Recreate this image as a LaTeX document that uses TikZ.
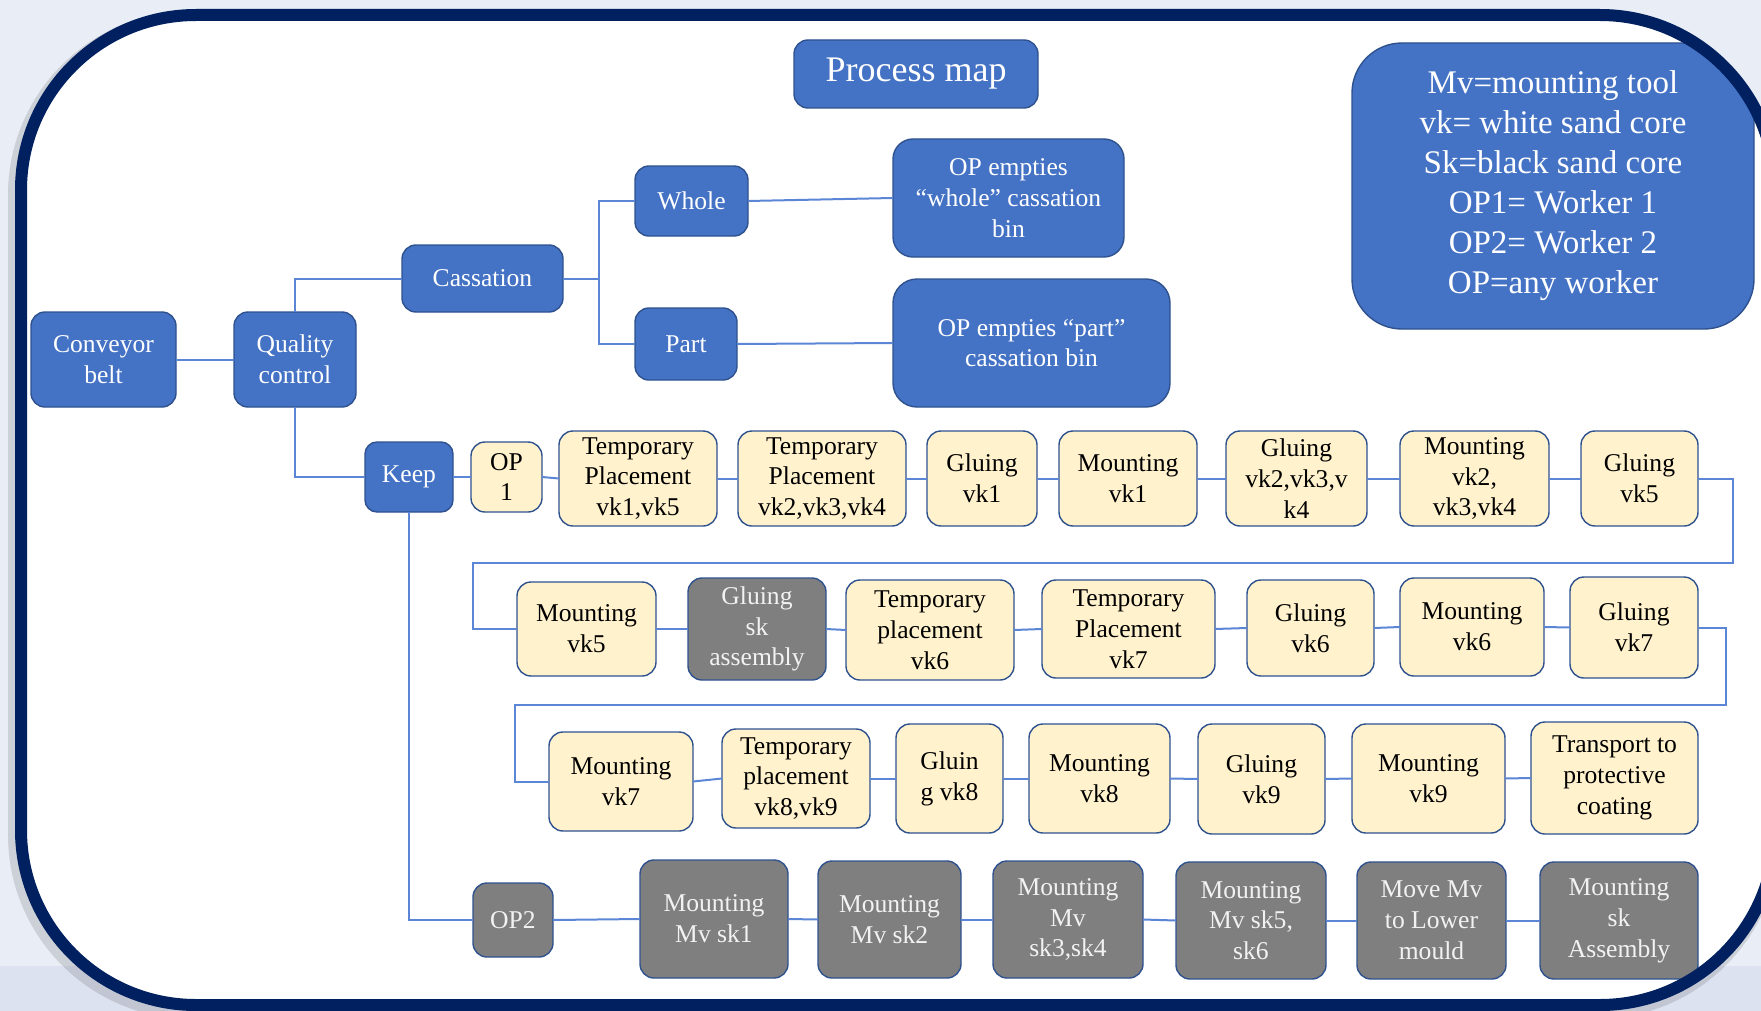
\documentclass[tikz,border=0pt]{standalone}
\usepackage{fontspec}
\setmainfont{Liberation Serif}
\definecolor{blu}{HTML}{4472C4}
\definecolor{bord}{HTML}{2F528F}
\definecolor{cream}{HTML}{FFF2CC}
\definecolor{grayf}{HTML}{7F7F7F}
\definecolor{lnk}{HTML}{5B86D6}
\definecolor{navy}{HTML}{002060}
\definecolor{bgc}{HTML}{E9EDF5}
\definecolor{bgd}{HTML}{DDE2F0}
\newcommand\bfnt{\fontsize{12.8}{15.4}\selectfont}
\newcommand\mkbox[7]{\node[#6, minimum width={(#4-#2)*0.5pt}, minimum height={(#5-#3)*0.5pt}] (#1) at ({(#2+#4)/2},{(#3+#5)/2}) {#7};}
\tikzset{
  basebox/.style={draw=bord, line width=0.7pt, align=center, inner sep=0pt, outer sep=0pt, font=\bfnt, rounded corners=7pt},
  bluebox/.style={basebox, fill=blu, text=white},
  creambox/.style={basebox, fill=cream, text=black},
  graybox/.style={basebox, fill=grayf, text=white!95!black},
  link/.style={draw=lnk, line width=1pt},
}
\begin{document}
\begin{tikzpicture}[x=0.5pt,y=-0.5pt]
\useasboundingbox (0,0) rectangle (1761,1011);
% background
\fill[bgc] (0,0) rectangle (1761,1011);
\fill[bgd] (0,966) rectangle (1761,1011);
% frame shadow and fill
\draw[line width=9pt, black, opacity=0.12, rounded corners=87.5pt] (17,20) rectangle (1771,1010);
\fill[white, rounded corners=87.5pt] (21,15) rectangle (1775,1005);
\begin{scope}
\clip[rounded corners=87.5pt] (21,15) rectangle (1775,1005);
% title and legend
\mkbox{pm}{794}{40}{1038}{108}{bluebox, font=\fontsize{18}{21}\selectfont}{Process map}
\mkbox{leg}{1352}{43}{1754}{329}{bluebox, rounded corners=25pt, font=\fontsize{16.5}{20}\selectfont}{Mv=mounting tool\\vk= white sand core\\Sk=black sand core\\OP1= Worker 1\\OP2= Worker 2\\OP=any worker}
% upper tree
\mkbox{conv}{31}{312}{176}{407}{bluebox}{Conveyor\\belt}
\mkbox{qc}{234}{312}{356}{407}{bluebox}{Quality\\control}
\mkbox{cas}{402}{245}{563}{312}{bluebox}{Cassation}
\mkbox{whole}{635}{166}{748}{236}{bluebox}{Whole}
\mkbox{part}{635}{308}{737}{380}{bluebox}{Part}
\mkbox{opw}{893}{139}{1124}{257}{bluebox, rounded corners=10pt}{OP empties\\“whole” cassation\\bin}
\mkbox{opp}{893}{279}{1170}{407}{bluebox, rounded corners=12pt}{OP empties “part”\\cassation bin}
\mkbox{keep}{365}{442}{453}{512}{bluebox, rounded corners=6pt}{Keep}
% row 1
\mkbox{op1}{471}{442}{542}{512}{creambox}{OP\\1}
\mkbox{tp1}{559}{431}{717}{526}{creambox}{Temporary\\Placement\\vk1,vk5}
\mkbox{tp2}{738}{431}{906}{526}{creambox}{Temporary\\Placement\\vk2,vk3,vk4}
\mkbox{gv1}{927}{431}{1037}{526}{creambox}{Gluing\\vk1}
\mkbox{mv1}{1059}{431}{1197}{526}{creambox}{Mounting\\vk1}
\mkbox{g234}{1226}{431}{1367}{526}{creambox}{Gluing\\vk2,vk3,v\\k4}
\mkbox{m234}{1400}{431}{1549}{526}{creambox}{Mounting\\vk2,\\vk3,vk4}
\mkbox{gv5}{1581}{431}{1698}{526}{creambox}{Gluing\\vk5}
% row 2
\mkbox{mv5}{517}{582}{656}{676}{creambox}{Mounting\\vk5}
\mkbox{gsk}{688}{578}{826}{680}{graybox}{Gluing\\sk\\assembly}
\mkbox{tp6}{846}{580}{1014}{680}{creambox}{Temporary\\placement\\vk6}
\mkbox{tp7}{1042}{580}{1215}{678}{creambox}{Temporary\\Placement\\vk7}
\mkbox{gv6}{1247}{580}{1374}{676}{creambox}{Gluing\\vk6}
\mkbox{mv6}{1400}{578}{1544}{676}{creambox}{Mounting\\vk6}
\mkbox{gv7}{1570}{577}{1698}{678}{creambox}{Gluing\\vk7}
% row 3
\mkbox{mv7}{549}{732}{693}{831}{creambox}{Mounting\\vk7}
\mkbox{tp89}{722}{729}{870}{828}{creambox}{Temporary\\placement\\vk8,vk9}
\mkbox{gv8}{896}{724}{1003}{833}{creambox}{Gluin\\g vk8}
\mkbox{mv8}{1029}{724}{1170}{833}{creambox}{Mounting\\vk8}
\mkbox{gv9}{1198}{724}{1325}{834}{creambox}{Gluing\\vk9}
\mkbox{mv9}{1352}{724}{1505}{833}{creambox}{Mounting\\vk9}
\mkbox{tpc}{1531}{722}{1698}{834}{creambox}{Transport to\\protective\\coating}
% row 4
\mkbox{op2}{473}{883}{553}{957}{graybox}{OP2}
\mkbox{ms1}{640}{860}{788}{978}{graybox}{Mounting\\Mv sk1}
\mkbox{ms2}{818}{861}{961}{978}{graybox}{Mounting\\Mv sk2}
\mkbox{ms34}{993}{861}{1143}{978}{graybox}{Mounting\\Mv\\sk3,sk4}
\mkbox{ms56}{1176}{862}{1326}{979}{graybox}{Mounting\\Mv sk5,\\sk6}
\mkbox{mvl}{1357}{862}{1506}{979}{graybox}{Move Mv\\to Lower\\mould}
\mkbox{msa}{1540}{862}{1698}{979}{graybox}{Mounting\\sk\\Assembly}
% helper coordinates
\coordinate (cs) at (599,278.5);
\coordinate (w1a) at (1733,563);
\coordinate (w1b) at (473,563);
\coordinate (w2a) at (1726,705);
\coordinate (w2b) at (515,705);
% connectors
\draw[link] (conv.east) -- (qc.west);
\draw[link] (qc.north) |- (cas.west);
\draw[link] (qc.south) |- (keep.west);
\draw[link] (cas.east) -- (cs);
\draw[link] (cs) |- (whole.west);
\draw[link] (cs) |- (part.west);
\draw[link] (whole.east) -- (opw.west);
\draw[link] (part.east) -- (opp.west);
\draw[link] (keep.east) -- (op1.west);
\draw[link] (op1.east) -- (tp1.west);
\draw[link] (tp1.east) -- (tp2.west);
\draw[link] (tp2.east) -- (gv1.west);
\draw[link] (gv1.east) -- (mv1.west);
\draw[link] (mv1.east) -- (g234.west);
\draw[link] (g234.east) -- (m234.west);
\draw[link] (m234.east) -- (gv5.west);
\draw[link] (gv5.east) -| (w1a) -- (w1b) |- (mv5.west);
\draw[link] (mv5.east) -- (gsk.west);
\draw[link] (gsk.east) -- (tp6.west);
\draw[link] (tp6.east) -- (tp7.west);
\draw[link] (tp7.east) -- (gv6.west);
\draw[link] (gv6.east) -- (mv6.west);
\draw[link] (mv6.east) -- (gv7.west);
\draw[link] (gv7.east) -| (w2a) -- (w2b) |- (mv7.west);
\draw[link] (mv7.east) -- (tp89.west);
\draw[link] (tp89.east) -- (gv8.west);
\draw[link] (gv8.east) -- (mv8.west);
\draw[link] (mv8.east) -- (gv9.west);
\draw[link] (gv9.east) -- (mv9.west);
\draw[link] (mv9.east) -- (tpc.west);
\draw[link] (keep.south) |- (op2.west);
\draw[link] (op2.east) -- (ms1.west);
\draw[link] (ms1.east) -- (ms2.west);
\draw[link] (ms2.east) -- (ms34.west);
\draw[link] (ms34.east) -- (ms56.west);
\draw[link] (ms56.east) -- (mvl.west);
\draw[link] (mvl.east) -- (msa.west);
\end{scope}
% frame stroke
\draw[line width=6pt, navy, rounded corners=87.5pt] (21,15) rectangle (1775,1005);
\end{tikzpicture}
\end{document}
